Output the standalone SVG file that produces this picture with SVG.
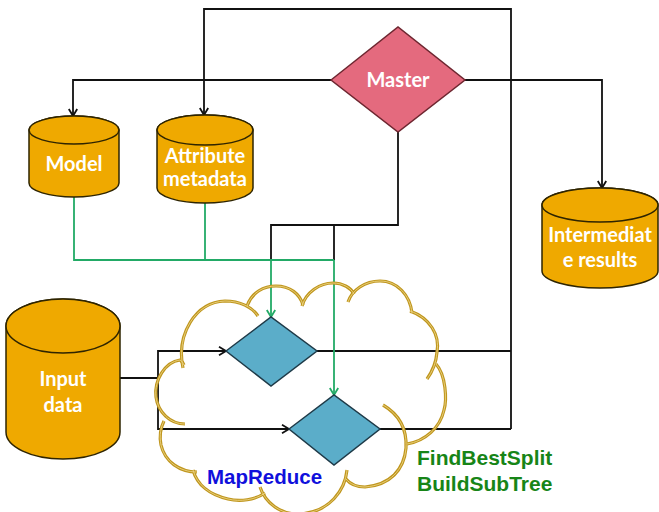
<svg xmlns="http://www.w3.org/2000/svg" width="659" height="512" viewBox="0 0 659 512">
<defs>
<style>
.bk{fill:none;stroke:#111;stroke-width:1.8}
.gr{fill:none;stroke:#22AA66;stroke-width:1.8}
.cyl{fill:#EFA900;stroke:#2E2400;stroke-width:1.5}
.dia{fill:#5BADC9;stroke:#1E3A48;stroke-width:1.5}
.mst{fill:#E46A7E;stroke:#6E2630;stroke-width:1.5}
.lbl{font-family:Lato,"Open Sans","Liberation Sans",sans-serif;font-weight:bold;font-size:20px;fill:#fff;text-anchor:middle}
.c1{fill:none;stroke:#BF961E;stroke-width:3.2;stroke-linecap:butt}
.c2{fill:none;stroke:#ECD483;stroke-width:0.9}
</style>
<marker id="ab" viewBox="-9 -6 11 12" refX="0" refY="0" markerWidth="11" markerHeight="12" markerUnits="userSpaceOnUse" orient="auto"><path d="M-7,-4.2 L0,0 L-7,4.2" fill="none" stroke="#111" stroke-width="1.8"/></marker>
<marker id="ag" viewBox="-9 -6 11 12" refX="0" refY="0" markerWidth="11" markerHeight="12" markerUnits="userSpaceOnUse" orient="auto"><path d="M-7,-4.2 L0,0 L-7,4.2" fill="none" stroke="#22AA66" stroke-width="1.8"/></marker>
<g id="cloudpath">
<path d="M183,368 C176,335 195,302 225,301 C240,301 252,307 258,316"/>
<path d="M247,306 C252,292 264,286 276,286 C290,286 300,294 303,305"/>
<path d="M302,306 C306,292 320,283 333,283 C343,283 351,288 354,294"/>
<path d="M348,302 C352,290 365,281 380,281 C397,281 410,295 412,313"/>
<path d="M410,311 C430,318 440,335 437,352 C436,364 432,372 427,379"/>
<path d="M436,364 C446,375 447,400 444,410 C440,428 425,441 407,444"/>
<path d="M383,405 C400,415 407,430 406,448 C404,470 390,485 365,487 C357,487 350,484 346,479"/>
<path d="M347,470 C345,490 330,512 300,514 C280,515 265,502 260,487"/>
<path d="M265,493 C255,500 240,502 228,499 C210,495 197,485 193,470"/>
<path d="M197,472 C180,472 165,462 161,445 C159,435 161,427 164,421"/>
<path d="M185,424 C170,424 158,412 156,397 C154,380 165,362 180,360 C182,361 183,363 184,365"/>
</g>
</defs>
<rect width="659" height="512" fill="#fff"/>
<g id="connectors">
<polyline class="bk" points="331,80 73,80 73,116" marker-end="url(#ab)"/>
<polyline class="bk" points="511,429 511,9 204,9 204,115" marker-end="url(#ab)"/>
<polyline class="bk" points="465,80 602,80 602,188" marker-end="url(#ab)"/>
<polyline class="bk" points="398,132 398,225 271,225 271,260"/>
<polyline class="bk" points="334,225 334,260"/>
<polyline class="bk" points="317,351 511,351"/>
<polyline class="bk" points="380,429 511,429"/>
<polyline class="bk" points="120,378 158,378"/>
<polyline class="bk" points="158,378 158,351 226,351" marker-end="url(#ab)"/>
<polyline class="bk" points="158,378 158,429 289,429" marker-end="url(#ab)"/>
<polyline class="gr" points="74,197 74,260 334,260"/>
<polyline class="gr" points="205,203 205,260"/>
<polyline class="gr" points="271,260 271,317" marker-end="url(#ag)"/>
<polyline class="gr" points="334,260 334,395" marker-end="url(#ag)"/>
</g>
<g id="mapreduce-cloud">
<use href="#cloudpath" class="c1"/>
<use href="#cloudpath" class="c2"/>
</g>
<g id="master">
<polygon class="mst" points="331,80 398,27 465,80 398,132"/>
<text class="lbl" x="398" y="87">Master</text>
</g>
<g id="model">
<path class="cyl" d="M29,130 L29,183 A45,14 0 0 0 119,183 L119,130 A45,14 0 0 0 29,130 Z"/>
<ellipse class="cyl" cx="74" cy="130" rx="45" ry="14"/>
<text class="lbl" x="74" y="171">Model</text>
</g>
<g id="attribute-metadata">
<path class="cyl" d="M157,130 L157,188 A48,15 0 0 0 253,188 L253,130 A48,15 0 0 0 157,130 Z"/>
<ellipse class="cyl" cx="205" cy="130" rx="48" ry="15"/>
<text class="lbl" x="205" y="163">Attribute</text>
<text class="lbl" x="205" y="186">metadata</text>
</g>
<g id="intermediate-results">
<path class="cyl" d="M542,205 L542,271 A58,17 0 0 0 658,271 L658,205 A58,17 0 0 0 542,205 Z"/>
<ellipse class="cyl" cx="600" cy="205" rx="58" ry="17"/>
<text class="lbl" x="600" y="242">Intermediat</text>
<text class="lbl" x="600" y="267">e results</text>
</g>
<g id="input-data">
<path class="cyl" d="M6,326 L6,432 A57,27 0 0 0 120,432 L120,326 A57,27 0 0 0 6,326 Z"/>
<ellipse class="cyl" cx="63" cy="326" rx="57" ry="27"/>
<text class="lbl" x="63" y="386">Input</text>
<text class="lbl" x="63" y="412">data</text>
</g>
<g id="task1">
<polygon class="dia" points="226,351 271,317 317,351 271,386"/>
</g>
<g id="task2">
<polygon class="dia" points="289,429 334,395 380,429 334,465"/>
</g>
<g id="labels" font-family="'Liberation Sans',Arial,sans-serif" font-weight="bold" font-size="20.5px">
<text x="207" y="484" fill="#1010DC">MapReduce</text>
<text x="417" y="465" fill="#178517" font-size="21px">FindBestSplit</text>
<text x="417" y="491" fill="#178517" font-size="21px">BuildSubTree</text>
</g>
</svg>
